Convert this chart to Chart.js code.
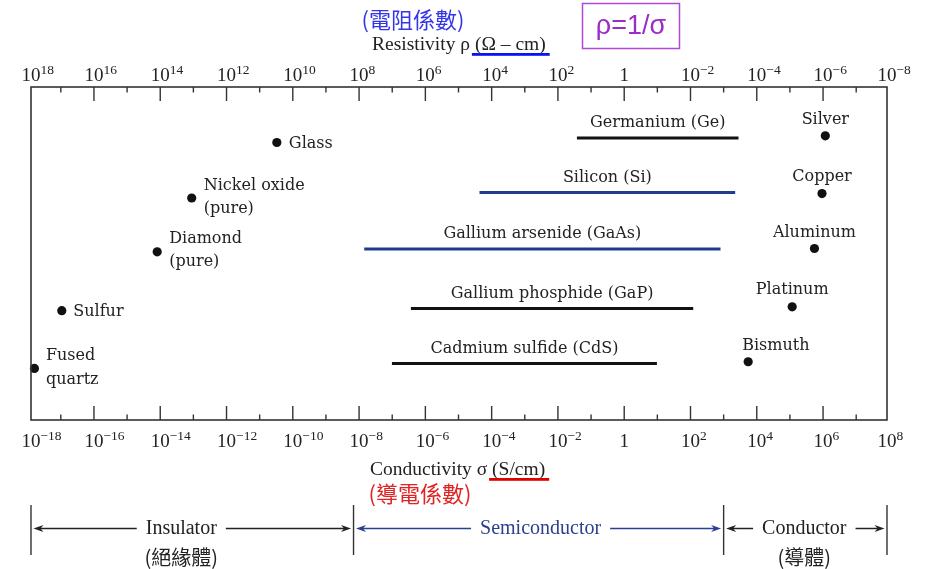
<!DOCTYPE html>
<html>
<head>
<meta charset="utf-8">
<title>Conductivity</title>
<script src="https://cdn.jsdelivr.net/npm/chart.js"></script>
<style>
  body { margin: 0; background: #fff; }
  canvas { display: block; }
</style>
</head>
<body>
<canvas id="wykres" width="934" height="569"></canvas>
<script>
// materiały jako pojedyncze punkty (przewodność w S/cm, wiersz)
const pointNames = ["Glass", "Nickel oxide\n(pure)", "Diamond\n(pure)", "Sulfur", "Fused\nquartz",
  "Silver", "Copper", "Aluminum", "Platinum", "Bismuth"]
const pointSigma = [3.3e-11, 8.9e-14, 8.1e-15, 1.07e-17, 1.6e-18, 1.17e6, 9.3e5, 5.5e5, 1.17e5, 5.5e3]
const pointRow = [5.0, 4.0, 3.03, 1.97, 0.93, 5.12, 4.08, 3.09, 2.04, 1.05]

// półprzewodniki jako zakresy przewodności
const bandNames = ["Germanium (Ge)", "Silicon (Si)", "Gallium arsenide (GaAs)", "Gallium phosphide (GaP)", "Cadmium sulfide (CdS)"]
const bandLow = [0.0374, 4.3e-5, 1.43e-8, 3.66e-7, 9.8e-8]
const bandHigh = [2810, 2230, 805, 121, 9.7]
const bandRow = [5.08, 4.10, 3.08, 2.01, 1.02]

// podziałki osi (wykładniki potęgi 10)
const sigmaTickExp = [-18, -16, -14, -12, -10, -8, -6, -4, -2, 0, 2, 4, 6, 8]
const rhoTickExp = [18, 16, 14, 12, 10, 8, 6, 4, 2, 0, -2, -4, -6, -8]
const minorTickExp = [-17, -15, -13, -11, -9, -7, -5, -3, -1, 1, 3, 5, 7]

// zakres osi przewodności
const sigmaMin = 1.26e-18
const sigmaMax = 8.5e7

// obszary: izolator / półprzewodnik / przewodnik
const regionNames = ["Insulator", "Semiconductor", "Conductor"]
const regionNamesZh = ["(絕緣體)", "", "(導體)"]
const regionEdges = [sigmaMin, 6.8e-9, 1e3, sigmaMax]

// wygląd (nie dane)
const bandColors = ["#111", "#1f3d8f", "#1f3d8f", "#111", "#111"]
const regionColors = ["#222", "#2b4190", "#222"]
const regionShift = [-11, 2, -1]
const pointPlace = [
  { align: "left", dx: 12, dy: [1] },
  { align: "left", dx: 12, dy: [-12.5, 10.5] },
  { align: "left", dx: 12, dy: [-12.5, 10.5] },
  { align: "left", dx: 11.5, dy: [1] },
  { align: "left", dx: 11.5, dy: [-12.5, 11] },
  { align: "center", dx: 0, dy: [-16] },
  { align: "center", dx: 0, dy: [-17] },
  { align: "center", dx: 0, dy: [-16] },
  { align: "center", dx: 0, dy: [-17] },
  { align: "left", dx: -6, dy: [-16] }
]

const serif = '"Liberation Serif", serif'
const labelFont = '16px "DejaVu Serif", serif'
const cjk = '"Noto Sans CJK TC", sans-serif'

// rysuje 10^n z indeksem górnym
function potega(ctx, exp, x, y) {
  ctx.font = "19px " + serif
  ctx.textBaseline = "alphabetic"
  ctx.textAlign = "center"
  if (exp === 0) { ctx.fillText("1", x, y); return }
  const w = ctx.measureText("10").width
  ctx.fillText("10", x, y)
  ctx.font = "13.5px " + serif
  ctx.textAlign = "left"
  ctx.fillText(exp < 0 ? "\u2212" + (-exp) : String(exp), x + w / 2, y - 6.5)
}

// strzałka od x1 do x2 (grot na x2)
function strzalka(ctx, x1, x2, y, color) {
  const d = x2 > x1 ? 1 : -1
  ctx.strokeStyle = color
  ctx.fillStyle = color
  ctx.lineWidth = 1.5
  ctx.beginPath(); ctx.moveTo(x1, y); ctx.lineTo(x2 - d * 6, y); ctx.stroke()
  ctx.beginPath()
  ctx.moveTo(x2, y); ctx.lineTo(x2 - d * 10, y - 3.5); ctx.lineTo(x2 - d * 7, y); ctx.lineTo(x2 - d * 10, y + 3.5)
  ctx.closePath(); ctx.fill()
}

// tytuł osi z podkreśloną jednostką
function tytul(ctx, tekst, jednostka, x, y, kolor) {
  ctx.font = "19.5px " + serif
  ctx.textAlign = "left"
  ctx.textBaseline = "alphabetic"
  ctx.fillStyle = "#222"
  ctx.fillText(tekst + jednostka, x, y)
  const x1 = x + ctx.measureText(tekst).width
  const x2 = x + ctx.measureText(tekst + jednostka).width
  ctx.fillStyle = kolor
  ctx.fillRect(x1 - 3, y + 3.5, x2 - x1 + 7, 2.8)
}

const rysuj = {
  id: "rysuj",
  afterDatasetsDraw(chart) {
    const ctx = chart.ctx
    const a = chart.chartArea
    const sx = chart.scales.x, sr = chart.scales.x2, sy = chart.scales.y
    const clamp = v => Math.max(a.left, Math.min(a.right, v))
    ctx.save()

    // ramka
    ctx.strokeStyle = "#333"
    ctx.lineWidth = 1.6
    ctx.strokeRect(a.left, a.top, a.right - a.left, a.bottom - a.top)

    // podziałki do środka
    ctx.lineWidth = 1.4
    function kreska(x, top, len) {
      if (x <= a.left + 1 || x >= a.right - 1) return
      ctx.beginPath()
      if (top) { ctx.moveTo(x, a.top); ctx.lineTo(x, a.top + len) }
      else { ctx.moveTo(x, a.bottom); ctx.lineTo(x, a.bottom - len) }
      ctx.stroke()
    }
    sigmaTickExp.forEach(e => kreska(sx.getPixelForValue(Math.pow(10, e)), false, 14))
    rhoTickExp.forEach(e => kreska(sr.getPixelForValue(Math.pow(10, e)), true, 14))
    minorTickExp.forEach(e => {
      kreska(sx.getPixelForValue(Math.pow(10, e)), false, 5.5)
      kreska(sr.getPixelForValue(Math.pow(10, -e)), true, 5.5)
    })

    // etykiety podziałek
    ctx.fillStyle = "#222"
    sigmaTickExp.forEach(e => potega(ctx, e, clamp(sx.getPixelForValue(Math.pow(10, e))), 446.5))
    rhoTickExp.forEach(e => potega(ctx, e, clamp(sr.getPixelForValue(Math.pow(10, e))), 80.5))

    // tytuły osi
    tytul(ctx, "Resistivity \u03c1 ", "(\u03a9 \u2013 cm)", 372, 49.5, "#0a14f0")
    tytul(ctx, "Conductivity \u03c3 ", "(S/cm)", 370, 474.5, "#e00000")

    ctx.textAlign = "center"
    ctx.textBaseline = "middle"
    ctx.font = "22px " + cjk
    ctx.fillStyle = "#3535e8"
    ctx.fillText("(電阻係數)", 413, 19.5)
    ctx.fillStyle = "#e02424"
    ctx.fillText("(導電係數)", 420, 493.5)

    // ramka z wzorem
    ctx.strokeStyle = "#b048d8"
    ctx.lineWidth = 1.5
    ctx.strokeRect(582.5, 3.5, 97, 45)
    ctx.fillStyle = "#9c2cc8"
    ctx.font = '27px "Liberation Sans", sans-serif'
    ctx.fillText("\u03c1=1/\u03c3", 631, 27)

    // opisy zakresów
    ctx.font = labelFont
    ctx.fillStyle = "#222"
    bandNames.forEach((n, i) => {
      const x = (sx.getPixelForValue(bandLow[i]) + sx.getPixelForValue(bandHigh[i])) / 2
      ctx.fillText(n, x, sy.getPixelForValue(bandRow[i]) - 15)
    })

    // opisy punktów
    pointNames.forEach((n, i) => {
      const p = pointPlace[i]
      const x = sx.getPixelForValue(pointSigma[i]) + p.dx
      const y = sy.getPixelForValue(pointRow[i])
      ctx.textAlign = p.align
      n.split("\n").forEach((t, k) => ctx.fillText(t, x, y + p.dy[k]))
    })

    // obszary pod wykresem
    const ya = 528.5
    ctx.lineWidth = 1.4
    ctx.strokeStyle = "#333"
    regionEdges.forEach(s => {
      const x = clamp(sx.getPixelForValue(s))
      ctx.beginPath(); ctx.moveTo(x, 505); ctx.lineTo(x, 555); ctx.stroke()
    })
    regionNames.forEach((n, i) => {
      const x1 = clamp(sx.getPixelForValue(regionEdges[i]))
      const x2 = clamp(sx.getPixelForValue(regionEdges[i + 1]))
      const xc = (x1 + x2) / 2 + regionShift[i]
      ctx.font = "20px " + serif
      ctx.textAlign = "center"
      ctx.textBaseline = "middle"
      ctx.fillStyle = regionColors[i]
      ctx.fillText(n, xc, ya)
      const w = ctx.measureText(n).width
      strzalka(ctx, xc - w / 2 - 9, x1 + 2.5, ya, regionColors[i])
      strzalka(ctx, xc + w / 2 + 9, x2 - 2.5, ya, regionColors[i])
      if (regionNamesZh[i]) {
        ctx.font = "20px " + cjk
        ctx.fillStyle = "#222"
        ctx.fillText(regionNamesZh[i], xc, 557)
      }
    })
    ctx.restore()
  }
}

const datasets = [{
  data: pointSigma.map((s, i) => ({ x: s, y: pointRow[i] })),
  pointRadius: 4.6,
  pointBackgroundColor: "#111",
  pointBorderWidth: 0,
  clip: false
}]
bandNames.forEach((n, i) => {
  datasets.push({
    data: [{ x: bandLow[i], y: bandRow[i] }, { x: bandHigh[i], y: bandRow[i] }],
    showLine: true,
    borderColor: bandColors[i],
    borderWidth: 3,
    pointRadius: 0,
    clip: false
  })
})

const chart = new Chart(document.getElementById("wykres"), {
  type: "scatter",
  data: { datasets: datasets },
  options: {
    responsive: false,
    animation: false,
    events: [],
    layout: { padding: { left: 31, right: 47, top: 87, bottom: 149 } },
    plugins: { legend: { display: false }, tooltip: { enabled: false } },
    scales: {
      x: { type: "logarithmic", min: sigmaMin, max: sigmaMax, display: false },
      x2: { type: "logarithmic", position: "top", reverse: true, min: 1 / sigmaMax, max: 1 / sigmaMin, display: false },
      y: { type: "linear", min: 0, max: 6, display: false }
    }
  },
  plugins: [rysuj]
})
</script>
</body>
</html>
